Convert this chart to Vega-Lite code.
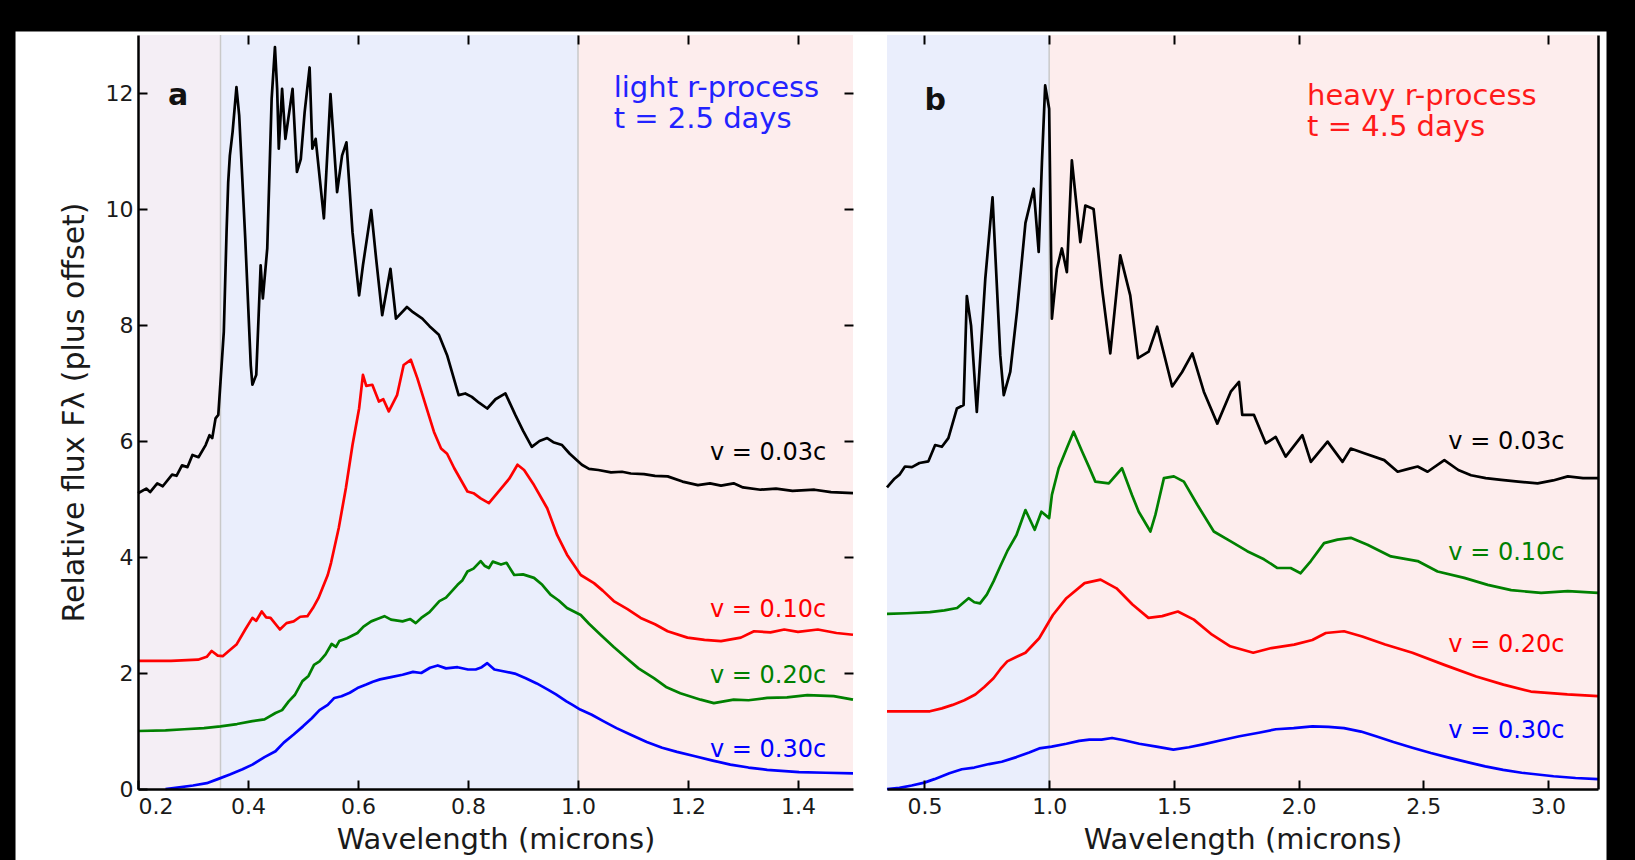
{
  "$schema": "https://vega.github.io/schema/vega-lite/v6.json",
  "background": "black",
  "padding": {"left": 15, "top": 31, "right": 29, "bottom": 0},
  "bounds": "flush",
  "spacing": 34,
  "config": {
    "view": {"stroke": null},
    "axis": {
      "grid": false,
      "domainColor": "black", "tickColor": "black", "domainWidth": 2.5, "tickWidth": 2, "tickSize": -9,
      "labelFont": "DejaVu Sans", "titleFont": "DejaVu Sans", "labelFontSize": 22, "titleFontSize": 29,
      "labelColor": "#1a1a1a", "titleColor": "#1a1a1a", "titleFontWeight": "normal"
    },
    "text": {"font": "DejaVu Sans"}
  },
  "datasets": {
    "one": [{}],
    "bandsA": [
      {"band": "uv", "start": 0.2, "end": 0.35},
      {"band": "optical", "start": 0.35, "end": 1.0},
      {"band": "infrared", "start": 1.0, "end": 1.5}
    ],
    "bandsB": [
      {"band": "optical", "start": 0.35, "end": 1.0},
      {"band": "infrared", "start": 1.0, "end": 3.2}
    ],
    "edgesA": [{"edge": 0.35}, {"edge": 1.0}],
    "edgesB": [{"edge": 1.0}],
    "spectraA": [
      {"v":"0.03c","wl":0.2,"f":5.1},{"v":"0.03c","wl":0.215,"f":5.18},{"v":"0.03c","wl":0.222,"f":5.12},{"v":"0.03c","wl":0.235,"f":5.27},{"v":"0.03c","wl":0.245,"f":5.22},{"v":"0.03c","wl":0.262,"f":5.42},{"v":"0.03c","wl":0.27,"f":5.4},{"v":"0.03c","wl":0.28,"f":5.58},{"v":"0.03c","wl":0.29,"f":5.55},{"v":"0.03c","wl":0.299,"f":5.76},{"v":"0.03c","wl":0.31,"f":5.72},{"v":"0.03c","wl":0.323,"f":5.93},{"v":"0.03c","wl":0.33,"f":6.1},{"v":"0.03c","wl":0.335,"f":6.05},{"v":"0.03c","wl":0.341,"f":6.39},{"v":"0.03c","wl":0.346,"f":6.45},{"v":"0.03c","wl":0.35,"f":7.02},{"v":"0.03c","wl":0.356,"f":7.88},{"v":"0.03c","wl":0.361,"f":9.6},{"v":"0.03c","wl":0.364,"f":10.46},{"v":"0.03c","wl":0.367,"f":10.92},{"v":"0.03c","wl":0.372,"f":11.33},{"v":"0.03c","wl":0.379,"f":12.1},{"v":"0.03c","wl":0.384,"f":11.61},{"v":"0.03c","wl":0.395,"f":9.49},{"v":"0.03c","wl":0.405,"f":7.31},{"v":"0.03c","wl":0.408,"f":6.97},{"v":"0.03c","wl":0.415,"f":7.14},{"v":"0.03c","wl":0.423,"f":9.03},{"v":"0.03c","wl":0.427,"f":8.46},{"v":"0.03c","wl":0.435,"f":9.32},{"v":"0.03c","wl":0.443,"f":11.9},{"v":"0.03c","wl":0.449,"f":12.79},{"v":"0.03c","wl":0.453,"f":12.07},{"v":"0.03c","wl":0.456,"f":11.04},{"v":"0.03c","wl":0.462,"f":12.07},{"v":"0.03c","wl":0.468,"f":11.21},{"v":"0.03c","wl":0.481,"f":12.07},{"v":"0.03c","wl":0.489,"f":10.64},{"v":"0.03c","wl":0.496,"f":10.86},{"v":"0.03c","wl":0.503,"f":11.67},{"v":"0.03c","wl":0.512,"f":12.44},{"v":"0.03c","wl":0.517,"f":11.04},{"v":"0.03c","wl":0.523,"f":11.21},{"v":"0.03c","wl":0.538,"f":9.84},{"v":"0.03c","wl":0.55,"f":11.98},{"v":"0.03c","wl":0.562,"f":10.29},{"v":"0.03c","wl":0.571,"f":10.92},{"v":"0.03c","wl":0.579,"f":11.15},{"v":"0.03c","wl":0.59,"f":9.6},{"v":"0.03c","wl":0.602,"f":8.51},{"v":"0.03c","wl":0.609,"f":9.03},{"v":"0.03c","wl":0.624,"f":9.98},{"v":"0.03c","wl":0.633,"f":9.14},{"v":"0.03c","wl":0.644,"f":8.17},{"v":"0.03c","wl":0.659,"f":8.97},{"v":"0.03c","wl":0.669,"f":8.11},{"v":"0.03c","wl":0.689,"f":8.31},{"v":"0.03c","wl":0.7,"f":8.22},{"v":"0.03c","wl":0.717,"f":8.11},{"v":"0.03c","wl":0.73,"f":7.98},{"v":"0.03c","wl":0.747,"f":7.83},{"v":"0.03c","wl":0.762,"f":7.48},{"v":"0.03c","wl":0.783,"f":6.79},{"v":"0.03c","wl":0.795,"f":6.82},{"v":"0.03c","wl":0.807,"f":6.76},{"v":"0.03c","wl":0.82,"f":6.66},{"v":"0.03c","wl":0.835,"f":6.56},{"v":"0.03c","wl":0.85,"f":6.72},{"v":"0.03c","wl":0.868,"f":6.82},{"v":"0.03c","wl":0.886,"f":6.45},{"v":"0.03c","wl":0.9,"f":6.18},{"v":"0.03c","wl":0.916,"f":5.9},{"v":"0.03c","wl":0.93,"f":6.0},{"v":"0.03c","wl":0.944,"f":6.05},{"v":"0.03c","wl":0.955,"f":5.98},{"v":"0.03c","wl":0.971,"f":5.93},{"v":"0.03c","wl":0.985,"f":5.78},{"v":"0.03c","wl":1.007,"f":5.59},{"v":"0.03c","wl":1.02,"f":5.52},{"v":"0.03c","wl":1.037,"f":5.5},{"v":"0.03c","wl":1.06,"f":5.46},{"v":"0.03c","wl":1.08,"f":5.47},{"v":"0.03c","wl":1.096,"f":5.44},{"v":"0.03c","wl":1.12,"f":5.43},{"v":"0.03c","wl":1.14,"f":5.4},{"v":"0.03c","wl":1.163,"f":5.39},{"v":"0.03c","wl":1.19,"f":5.3},{"v":"0.03c","wl":1.218,"f":5.24},{"v":"0.03c","wl":1.24,"f":5.27},{"v":"0.03c","wl":1.26,"f":5.23},{"v":"0.03c","wl":1.283,"f":5.27},{"v":"0.03c","wl":1.3,"f":5.2},{"v":"0.03c","wl":1.332,"f":5.16},{"v":"0.03c","wl":1.36,"f":5.18},{"v":"0.03c","wl":1.39,"f":5.14},{"v":"0.03c","wl":1.43,"f":5.16},{"v":"0.03c","wl":1.46,"f":5.12},{"v":"0.03c","wl":1.5,"f":5.1},
      {"v":"0.10c","wl":0.2,"f":2.21},{"v":"0.10c","wl":0.26,"f":2.21},{"v":"0.10c","wl":0.309,"f":2.23},{"v":"0.10c","wl":0.325,"f":2.28},{"v":"0.10c","wl":0.334,"f":2.38},{"v":"0.10c","wl":0.345,"f":2.3},{"v":"0.10c","wl":0.354,"f":2.29},{"v":"0.10c","wl":0.365,"f":2.38},{"v":"0.10c","wl":0.379,"f":2.49},{"v":"0.10c","wl":0.395,"f":2.75},{"v":"0.10c","wl":0.408,"f":2.95},{"v":"0.10c","wl":0.415,"f":2.9},{"v":"0.10c","wl":0.425,"f":3.06},{"v":"0.10c","wl":0.433,"f":2.96},{"v":"0.10c","wl":0.441,"f":2.95},{"v":"0.10c","wl":0.458,"f":2.75},{"v":"0.10c","wl":0.47,"f":2.86},{"v":"0.10c","wl":0.483,"f":2.89},{"v":"0.10c","wl":0.495,"f":2.97},{"v":"0.10c","wl":0.508,"f":2.98},{"v":"0.10c","wl":0.518,"f":3.12},{"v":"0.10c","wl":0.528,"f":3.29},{"v":"0.10c","wl":0.545,"f":3.69},{"v":"0.10c","wl":0.551,"f":3.9},{"v":"0.10c","wl":0.565,"f":4.5},{"v":"0.10c","wl":0.578,"f":5.19},{"v":"0.10c","wl":0.59,"f":5.93},{"v":"0.10c","wl":0.602,"f":6.56},{"v":"0.10c","wl":0.609,"f":7.14},{"v":"0.10c","wl":0.615,"f":6.95},{"v":"0.10c","wl":0.626,"f":6.97},{"v":"0.10c","wl":0.638,"f":6.68},{"v":"0.10c","wl":0.646,"f":6.72},{"v":"0.10c","wl":0.656,"f":6.51},{"v":"0.10c","wl":0.671,"f":6.79},{"v":"0.10c","wl":0.683,"f":7.31},{"v":"0.10c","wl":0.696,"f":7.4},{"v":"0.10c","wl":0.708,"f":7.08},{"v":"0.10c","wl":0.723,"f":6.62},{"v":"0.10c","wl":0.738,"f":6.16},{"v":"0.10c","wl":0.751,"f":5.87},{"v":"0.10c","wl":0.762,"f":5.78},{"v":"0.10c","wl":0.775,"f":5.53},{"v":"0.10c","wl":0.799,"f":5.13},{"v":"0.10c","wl":0.81,"f":5.1},{"v":"0.10c","wl":0.823,"f":5.01},{"v":"0.10c","wl":0.838,"f":4.93},{"v":"0.10c","wl":0.86,"f":5.18},{"v":"0.10c","wl":0.875,"f":5.35},{"v":"0.10c","wl":0.89,"f":5.59},{"v":"0.10c","wl":0.902,"f":5.5},{"v":"0.10c","wl":0.92,"f":5.24},{"v":"0.10c","wl":0.944,"f":4.84},{"v":"0.10c","wl":0.962,"f":4.38},{"v":"0.10c","wl":0.98,"f":4.04},{"v":"0.10c","wl":1.005,"f":3.69},{"v":"0.10c","wl":1.029,"f":3.55},{"v":"0.10c","wl":1.045,"f":3.42},{"v":"0.10c","wl":1.065,"f":3.24},{"v":"0.10c","wl":1.09,"f":3.1},{"v":"0.10c","wl":1.114,"f":2.95},{"v":"0.10c","wl":1.14,"f":2.84},{"v":"0.10c","wl":1.163,"f":2.72},{"v":"0.10c","wl":1.199,"f":2.61},{"v":"0.10c","wl":1.23,"f":2.57},{"v":"0.10c","wl":1.26,"f":2.55},{"v":"0.10c","wl":1.296,"f":2.61},{"v":"0.10c","wl":1.32,"f":2.72},{"v":"0.10c","wl":1.35,"f":2.7},{"v":"0.10c","wl":1.375,"f":2.75},{"v":"0.10c","wl":1.4,"f":2.71},{"v":"0.10c","wl":1.436,"f":2.75},{"v":"0.10c","wl":1.47,"f":2.69},{"v":"0.10c","wl":1.5,"f":2.66},
      {"v":"0.20c","wl":0.2,"f":1.0},{"v":"0.20c","wl":0.25,"f":1.01},{"v":"0.20c","wl":0.284,"f":1.03},{"v":"0.20c","wl":0.32,"f":1.05},{"v":"0.20c","wl":0.35,"f":1.08},{"v":"0.20c","wl":0.38,"f":1.12},{"v":"0.20c","wl":0.408,"f":1.17},{"v":"0.20c","wl":0.43,"f":1.2},{"v":"0.20c","wl":0.45,"f":1.31},{"v":"0.20c","wl":0.462,"f":1.36},{"v":"0.20c","wl":0.474,"f":1.51},{"v":"0.20c","wl":0.485,"f":1.62},{"v":"0.20c","wl":0.499,"f":1.86},{"v":"0.20c","wl":0.51,"f":1.95},{"v":"0.20c","wl":0.52,"f":2.14},{"v":"0.20c","wl":0.53,"f":2.2},{"v":"0.20c","wl":0.541,"f":2.32},{"v":"0.20c","wl":0.552,"f":2.5},{"v":"0.20c","wl":0.56,"f":2.45},{"v":"0.20c","wl":0.566,"f":2.55},{"v":"0.20c","wl":0.58,"f":2.6},{"v":"0.20c","wl":0.599,"f":2.69},{"v":"0.20c","wl":0.61,"f":2.8},{"v":"0.20c","wl":0.624,"f":2.89},{"v":"0.20c","wl":0.635,"f":2.93},{"v":"0.20c","wl":0.648,"f":2.98},{"v":"0.20c","wl":0.66,"f":2.92},{"v":"0.20c","wl":0.681,"f":2.89},{"v":"0.20c","wl":0.695,"f":2.93},{"v":"0.20c","wl":0.705,"f":2.86},{"v":"0.20c","wl":0.715,"f":2.95},{"v":"0.20c","wl":0.73,"f":3.05},{"v":"0.20c","wl":0.748,"f":3.24},{"v":"0.20c","wl":0.76,"f":3.3},{"v":"0.20c","wl":0.781,"f":3.52},{"v":"0.20c","wl":0.79,"f":3.6},{"v":"0.20c","wl":0.799,"f":3.75},{"v":"0.20c","wl":0.81,"f":3.8},{"v":"0.20c","wl":0.823,"f":3.93},{"v":"0.20c","wl":0.83,"f":3.85},{"v":"0.20c","wl":0.838,"f":3.81},{"v":"0.20c","wl":0.845,"f":3.92},{"v":"0.20c","wl":0.86,"f":3.87},{"v":"0.20c","wl":0.87,"f":3.9},{"v":"0.20c","wl":0.884,"f":3.69},{"v":"0.20c","wl":0.9,"f":3.7},{"v":"0.20c","wl":0.92,"f":3.64},{"v":"0.20c","wl":0.935,"f":3.52},{"v":"0.20c","wl":0.95,"f":3.35},{"v":"0.20c","wl":0.965,"f":3.25},{"v":"0.20c","wl":0.98,"f":3.12},{"v":"0.20c","wl":1.005,"f":3.0},{"v":"0.20c","wl":1.02,"f":2.85},{"v":"0.20c","wl":1.041,"f":2.66},{"v":"0.20c","wl":1.065,"f":2.45},{"v":"0.20c","wl":1.089,"f":2.25},{"v":"0.20c","wl":1.11,"f":2.08},{"v":"0.20c","wl":1.138,"f":1.91},{"v":"0.20c","wl":1.16,"f":1.76},{"v":"0.20c","wl":1.186,"f":1.65},{"v":"0.20c","wl":1.223,"f":1.54},{"v":"0.20c","wl":1.247,"f":1.48},{"v":"0.20c","wl":1.283,"f":1.54},{"v":"0.20c","wl":1.31,"f":1.53},{"v":"0.20c","wl":1.344,"f":1.57},{"v":"0.20c","wl":1.38,"f":1.58},{"v":"0.20c","wl":1.417,"f":1.62},{"v":"0.20c","wl":1.465,"f":1.6},{"v":"0.20c","wl":1.5,"f":1.54},
      {"v":"0.30c","wl":0.25,"f":0.0},{"v":"0.30c","wl":0.268,"f":0.02},{"v":"0.30c","wl":0.3,"f":0.06},{"v":"0.30c","wl":0.325,"f":0.1},{"v":"0.30c","wl":0.345,"f":0.17},{"v":"0.30c","wl":0.367,"f":0.25},{"v":"0.30c","wl":0.39,"f":0.34},{"v":"0.30c","wl":0.408,"f":0.42},{"v":"0.30c","wl":0.43,"f":0.55},{"v":"0.30c","wl":0.45,"f":0.65},{"v":"0.30c","wl":0.465,"f":0.8},{"v":"0.30c","wl":0.483,"f":0.94},{"v":"0.30c","wl":0.5,"f":1.08},{"v":"0.30c","wl":0.516,"f":1.22},{"v":"0.30c","wl":0.53,"f":1.36},{"v":"0.30c","wl":0.545,"f":1.45},{"v":"0.30c","wl":0.557,"f":1.57},{"v":"0.30c","wl":0.57,"f":1.6},{"v":"0.30c","wl":0.585,"f":1.66},{"v":"0.30c","wl":0.599,"f":1.74},{"v":"0.30c","wl":0.615,"f":1.8},{"v":"0.30c","wl":0.627,"f":1.85},{"v":"0.30c","wl":0.64,"f":1.89},{"v":"0.30c","wl":0.66,"f":1.93},{"v":"0.30c","wl":0.681,"f":1.97},{"v":"0.30c","wl":0.7,"f":2.02},{"v":"0.30c","wl":0.715,"f":2.0},{"v":"0.30c","wl":0.731,"f":2.09},{"v":"0.30c","wl":0.745,"f":2.13},{"v":"0.30c","wl":0.76,"f":2.08},{"v":"0.30c","wl":0.781,"f":2.1},{"v":"0.30c","wl":0.8,"f":2.06},{"v":"0.30c","wl":0.814,"f":2.06},{"v":"0.30c","wl":0.825,"f":2.1},{"v":"0.30c","wl":0.835,"f":2.17},{"v":"0.30c","wl":0.848,"f":2.06},{"v":"0.30c","wl":0.864,"f":2.03},{"v":"0.30c","wl":0.885,"f":1.99},{"v":"0.30c","wl":0.905,"f":1.91},{"v":"0.30c","wl":0.925,"f":1.82},{"v":"0.30c","wl":0.946,"f":1.71},{"v":"0.30c","wl":0.96,"f":1.63},{"v":"0.30c","wl":0.979,"f":1.51},{"v":"0.30c","wl":0.99,"f":1.45},{"v":"0.30c","wl":1.004,"f":1.37},{"v":"0.30c","wl":1.025,"f":1.28},{"v":"0.30c","wl":1.046,"f":1.17},{"v":"0.30c","wl":1.07,"f":1.05},{"v":"0.30c","wl":1.095,"f":0.94},{"v":"0.30c","wl":1.125,"f":0.81},{"v":"0.30c","wl":1.153,"f":0.71},{"v":"0.30c","wl":1.18,"f":0.64},{"v":"0.30c","wl":1.211,"f":0.57},{"v":"0.30c","wl":1.245,"f":0.49},{"v":"0.30c","wl":1.277,"f":0.42},{"v":"0.30c","wl":1.31,"f":0.37},{"v":"0.30c","wl":1.344,"f":0.33},{"v":"0.30c","wl":1.402,"f":0.29},{"v":"0.30c","wl":1.45,"f":0.28},{"v":"0.30c","wl":1.5,"f":0.27}
    ],
    "spectraB": [
      {"v":"0.03c","wl":0.35,"f":5.2},{"v":"0.03c","wl":0.38,"f":5.35},{"v":"0.03c","wl":0.4,"f":5.42},{"v":"0.03c","wl":0.422,"f":5.56},{"v":"0.03c","wl":0.45,"f":5.55},{"v":"0.03c","wl":0.48,"f":5.62},{"v":"0.03c","wl":0.516,"f":5.65},{"v":"0.03c","wl":0.543,"f":5.93},{"v":"0.03c","wl":0.57,"f":5.9},{"v":"0.03c","wl":0.596,"f":6.05},{"v":"0.03c","wl":0.63,"f":6.56},{"v":"0.03c","wl":0.657,"f":6.62},{"v":"0.03c","wl":0.67,"f":8.5},{"v":"0.03c","wl":0.687,"f":7.99},{"v":"0.03c","wl":0.71,"f":6.5},{"v":"0.03c","wl":0.744,"f":8.8},{"v":"0.03c","wl":0.773,"f":10.2},{"v":"0.03c","wl":0.804,"f":7.48},{"v":"0.03c","wl":0.818,"f":6.79},{"v":"0.03c","wl":0.844,"f":7.19},{"v":"0.03c","wl":0.871,"f":8.23},{"v":"0.03c","wl":0.905,"f":9.76},{"v":"0.03c","wl":0.938,"f":10.35},{"v":"0.03c","wl":0.958,"f":9.26},{"v":"0.03c","wl":0.971,"f":10.8},{"v":"0.03c","wl":0.984,"f":12.13},{"v":"0.03c","wl":1.0,"f":11.73},{"v":"0.03c","wl":1.011,"f":8.11},{"v":"0.03c","wl":1.031,"f":8.97},{"v":"0.03c","wl":1.051,"f":9.32},{"v":"0.03c","wl":1.071,"f":8.91},{"v":"0.03c","wl":1.091,"f":10.84},{"v":"0.03c","wl":1.125,"f":9.43},{"v":"0.03c","wl":1.145,"f":10.06},{"v":"0.03c","wl":1.178,"f":10.0},{"v":"0.03c","wl":1.212,"f":8.63},{"v":"0.03c","wl":1.245,"f":7.51},{"v":"0.03c","wl":1.285,"f":9.2},{"v":"0.03c","wl":1.325,"f":8.51},{"v":"0.03c","wl":1.356,"f":7.43},{"v":"0.03c","wl":1.399,"f":7.54},{"v":"0.03c","wl":1.433,"f":7.97},{"v":"0.03c","wl":1.493,"f":6.94},{"v":"0.03c","wl":1.533,"f":7.19},{"v":"0.03c","wl":1.574,"f":7.51},{"v":"0.03c","wl":1.62,"f":6.85},{"v":"0.03c","wl":1.674,"f":6.3},{"v":"0.03c","wl":1.728,"f":6.85},{"v":"0.03c","wl":1.761,"f":7.02},{"v":"0.03c","wl":1.774,"f":6.45},{"v":"0.03c","wl":1.821,"f":6.45},{"v":"0.03c","wl":1.868,"f":5.96},{"v":"0.03c","wl":1.908,"f":6.07},{"v":"0.03c","wl":1.948,"f":5.73},{"v":"0.03c","wl":2.015,"f":6.1},{"v":"0.03c","wl":2.049,"f":5.64},{"v":"0.03c","wl":2.116,"f":5.99},{"v":"0.03c","wl":2.176,"f":5.64},{"v":"0.03c","wl":2.209,"f":5.87},{"v":"0.03c","wl":2.263,"f":5.79},{"v":"0.03c","wl":2.343,"f":5.67},{"v":"0.03c","wl":2.397,"f":5.47},{"v":"0.03c","wl":2.44,"f":5.52},{"v":"0.03c","wl":2.477,"f":5.56},{"v":"0.03c","wl":2.517,"f":5.47},{"v":"0.03c","wl":2.584,"f":5.67},{"v":"0.03c","wl":2.64,"f":5.5},{"v":"0.03c","wl":2.691,"f":5.41},{"v":"0.03c","wl":2.75,"f":5.36},{"v":"0.03c","wl":2.812,"f":5.33},{"v":"0.03c","wl":2.88,"f":5.3},{"v":"0.03c","wl":2.958,"f":5.27},{"v":"0.03c","wl":3.02,"f":5.32},{"v":"0.03c","wl":3.079,"f":5.39},{"v":"0.03c","wl":3.14,"f":5.36},{"v":"0.03c","wl":3.2,"f":5.36},
      {"v":"0.10c","wl":0.35,"f":3.02},{"v":"0.10c","wl":0.43,"f":3.03},{"v":"0.10c","wl":0.522,"f":3.05},{"v":"0.10c","wl":0.58,"f":3.08},{"v":"0.10c","wl":0.631,"f":3.12},{"v":"0.10c","wl":0.677,"f":3.29},{"v":"0.10c","wl":0.7,"f":3.22},{"v":"0.10c","wl":0.723,"f":3.2},{"v":"0.10c","wl":0.75,"f":3.35},{"v":"0.10c","wl":0.777,"f":3.58},{"v":"0.10c","wl":0.805,"f":3.85},{"v":"0.10c","wl":0.832,"f":4.1},{"v":"0.10c","wl":0.869,"f":4.38},{"v":"0.10c","wl":0.905,"f":4.81},{"v":"0.10c","wl":0.942,"f":4.47},{"v":"0.10c","wl":0.969,"f":4.78},{"v":"0.10c","wl":1.0,"f":4.67},{"v":"0.10c","wl":1.011,"f":5.07},{"v":"0.10c","wl":1.038,"f":5.53},{"v":"0.10c","wl":1.071,"f":5.88},{"v":"0.10c","wl":1.098,"f":6.16},{"v":"0.10c","wl":1.132,"f":5.82},{"v":"0.10c","wl":1.16,"f":5.55},{"v":"0.10c","wl":1.185,"f":5.3},{"v":"0.10c","wl":1.239,"f":5.27},{"v":"0.10c","wl":1.292,"f":5.53},{"v":"0.10c","wl":1.332,"f":5.07},{"v":"0.10c","wl":1.359,"f":4.78},{"v":"0.10c","wl":1.406,"f":4.44},{"v":"0.10c","wl":1.426,"f":4.73},{"v":"0.10c","wl":1.46,"f":5.36},{"v":"0.10c","wl":1.5,"f":5.39},{"v":"0.10c","wl":1.54,"f":5.3},{"v":"0.10c","wl":1.594,"f":4.9},{"v":"0.10c","wl":1.66,"f":4.44},{"v":"0.10c","wl":1.728,"f":4.27},{"v":"0.10c","wl":1.794,"f":4.1},{"v":"0.10c","wl":1.861,"f":3.96},{"v":"0.10c","wl":1.915,"f":3.81},{"v":"0.10c","wl":1.968,"f":3.81},{"v":"0.10c","wl":2.008,"f":3.72},{"v":"0.10c","wl":2.049,"f":3.93},{"v":"0.10c","wl":2.102,"f":4.24},{"v":"0.10c","wl":2.156,"f":4.3},{"v":"0.10c","wl":2.209,"f":4.33},{"v":"0.10c","wl":2.276,"f":4.21},{"v":"0.10c","wl":2.37,"f":4.01},{"v":"0.10c","wl":2.477,"f":3.93},{"v":"0.10c","wl":2.557,"f":3.75},{"v":"0.10c","wl":2.664,"f":3.64},{"v":"0.10c","wl":2.758,"f":3.52},{"v":"0.10c","wl":2.852,"f":3.43},{"v":"0.10c","wl":2.972,"f":3.38},{"v":"0.10c","wl":3.079,"f":3.41},{"v":"0.10c","wl":3.2,"f":3.38},
      {"v":"0.20c","wl":0.35,"f":1.34},{"v":"0.20c","wl":0.44,"f":1.34},{"v":"0.20c","wl":0.522,"f":1.34},{"v":"0.20c","wl":0.57,"f":1.39},{"v":"0.20c","wl":0.613,"f":1.45},{"v":"0.20c","wl":0.66,"f":1.53},{"v":"0.20c","wl":0.704,"f":1.63},{"v":"0.20c","wl":0.74,"f":1.76},{"v":"0.20c","wl":0.777,"f":1.91},{"v":"0.20c","wl":0.805,"f":2.07},{"v":"0.20c","wl":0.832,"f":2.2},{"v":"0.20c","wl":0.87,"f":2.28},{"v":"0.20c","wl":0.905,"f":2.35},{"v":"0.20c","wl":0.96,"f":2.6},{"v":"0.20c","wl":1.015,"f":3.0},{"v":"0.20c","wl":1.069,"f":3.29},{"v":"0.20c","wl":1.142,"f":3.55},{"v":"0.20c","wl":1.206,"f":3.61},{"v":"0.20c","wl":1.27,"f":3.46},{"v":"0.20c","wl":1.334,"f":3.18},{"v":"0.20c","wl":1.398,"f":2.95},{"v":"0.20c","wl":1.453,"f":2.98},{"v":"0.20c","wl":1.516,"f":3.06},{"v":"0.20c","wl":1.58,"f":2.92},{"v":"0.20c","wl":1.653,"f":2.66},{"v":"0.20c","wl":1.726,"f":2.46},{"v":"0.20c","wl":1.818,"f":2.35},{"v":"0.20c","wl":1.891,"f":2.43},{"v":"0.20c","wl":1.982,"f":2.49},{"v":"0.20c","wl":2.055,"f":2.57},{"v":"0.20c","wl":2.109,"f":2.69},{"v":"0.20c","wl":2.182,"f":2.72},{"v":"0.20c","wl":2.255,"f":2.63},{"v":"0.20c","wl":2.347,"f":2.49},{"v":"0.20c","wl":2.456,"f":2.35},{"v":"0.20c","wl":2.584,"f":2.14},{"v":"0.20c","wl":2.712,"f":1.94},{"v":"0.20c","wl":2.821,"f":1.8},{"v":"0.20c","wl":2.931,"f":1.68},{"v":"0.20c","wl":3.077,"f":1.63},{"v":"0.20c","wl":3.2,"f":1.6},
      {"v":"0.30c","wl":0.35,"f":0.0},{"v":"0.30c","wl":0.4,"f":0.02},{"v":"0.30c","wl":0.449,"f":0.06},{"v":"0.30c","wl":0.5,"f":0.11},{"v":"0.30c","wl":0.54,"f":0.17},{"v":"0.30c","wl":0.6,"f":0.27},{"v":"0.30c","wl":0.65,"f":0.34},{"v":"0.30c","wl":0.7,"f":0.37},{"v":"0.30c","wl":0.759,"f":0.43},{"v":"0.30c","wl":0.81,"f":0.47},{"v":"0.30c","wl":0.869,"f":0.55},{"v":"0.30c","wl":0.92,"f":0.63},{"v":"0.30c","wl":0.96,"f":0.7},{"v":"0.30c","wl":1.01,"f":0.73},{"v":"0.30c","wl":1.069,"f":0.78},{"v":"0.30c","wl":1.12,"f":0.83},{"v":"0.30c","wl":1.161,"f":0.85},{"v":"0.30c","wl":1.21,"f":0.85},{"v":"0.30c","wl":1.252,"f":0.88},{"v":"0.30c","wl":1.3,"f":0.84},{"v":"0.30c","wl":1.361,"f":0.78},{"v":"0.30c","wl":1.43,"f":0.73},{"v":"0.30c","wl":1.498,"f":0.68},{"v":"0.30c","wl":1.56,"f":0.72},{"v":"0.30c","wl":1.617,"f":0.77},{"v":"0.30c","wl":1.69,"f":0.84},{"v":"0.30c","wl":1.763,"f":0.91},{"v":"0.30c","wl":1.84,"f":0.97},{"v":"0.30c","wl":1.909,"f":1.03},{"v":"0.30c","wl":1.98,"f":1.05},{"v":"0.30c","wl":2.055,"f":1.08},{"v":"0.30c","wl":2.12,"f":1.07},{"v":"0.30c","wl":2.182,"f":1.05},{"v":"0.30c","wl":2.25,"f":0.99},{"v":"0.30c","wl":2.31,"f":0.91},{"v":"0.30c","wl":2.38,"f":0.81},{"v":"0.30c","wl":2.456,"f":0.71},{"v":"0.30c","wl":2.53,"f":0.62},{"v":"0.30c","wl":2.602,"f":0.54},{"v":"0.30c","wl":2.68,"f":0.46},{"v":"0.30c","wl":2.748,"f":0.39},{"v":"0.30c","wl":2.82,"f":0.33},{"v":"0.30c","wl":2.894,"f":0.28},{"v":"0.30c","wl":3.022,"f":0.22},{"v":"0.30c","wl":3.11,"f":0.19},{"v":"0.30c","wl":3.2,"f":0.17}
    ]
  },
  "hconcat": [
    {
      "width": 715,
      "height": 754,
      "resolve": {"axis": {"x": "independent", "y": "independent"}, "scale": {"color": "independent"}},
      "layer": [
        {
          "data": {"name": "one"},
          "mark": {"type": "rect", "fill": "white"},
          "encoding": {
            "x": {"datum": -0.0227, "type": "quantitative", "scale": {"domain": [0.2, 1.5], "nice": false, "zero": false}, "axis": null},
            "x2": {"datum": 2.87},
            "y": {"datum": -1.234, "type": "quantitative", "scale": {"domain": [0, 13], "nice": false, "zero": false}, "axis": null},
            "y2": {"datum": 13.059}
          }
        },
        {
          "data": {"name": "bandsA"},
          "mark": {"type": "rect"},
          "encoding": {
            "x": {"field": "start", "type": "quantitative", "scale": {"domain": [0.2, 1.5], "nice": false, "zero": false}, "axis": null},
            "x2": {"field": "end"},
            "y": {"datum": 0, "type": "quantitative", "scale": {"domain": [0, 13], "nice": false, "zero": false}, "axis": null},
            "y2": {"datum": 13},
            "color": {"field": "band", "type": "nominal", "legend": null,
              "scale": {"domain": ["uv", "optical", "infrared"], "range": ["#f4eef5", "#eaeefc", "#fdeded"]}}
          }
        },
        {
          "data": {"name": "edgesA"},
          "mark": {"type": "rule", "color": "#c9c9c9", "strokeWidth": 1.5},
          "encoding": {
            "x": {"field": "edge", "type": "quantitative", "scale": {"domain": [0.2, 1.5], "nice": false, "zero": false}, "axis": null}
          }
        },
        {
          "data": {"name": "spectraA"},
          "mark": {"type": "line", "strokeWidth": 2.7, "strokeJoin": "round"},
          "encoding": {
            "x": {"field": "wl", "type": "quantitative", "scale": {"domain": [0.2, 1.5], "nice": false, "zero": false},
              "axis": {"orient": "bottom", "zindex": 2, "values": [0.2, 0.4, 0.6, 0.8, 1.0, 1.2, 1.4], "format": ".1f", "title": "Wavelength (microns)", "labelPadding": 16, "titlePadding": 8}},
            "y": {"field": "f", "type": "quantitative", "scale": {"domain": [0, 13], "nice": false, "zero": false},
              "axis": {"orient": "left", "zindex": 2, "values": [0, 2, 4, 6, 8, 10, 12], "format": "d", "title": "Relative flux  Fλ  (plus offset)", "titleFontSize": 30, "labelPadding": 14, "titlePadding": 16}},
            "color": {"field": "v", "type": "nominal", "legend": null,
              "scale": {"domain": ["0.03c", "0.10c", "0.20c", "0.30c"], "range": ["#000000", "#ff0000", "#008000", "#0000ff"]}}
          }
        },
        {
          "data": {"name": "one"},
          "mark": {"type": "text", "text": "a", "fontSize": 30, "fontWeight": "bold", "color": "#111111", "align": "center", "baseline": "middle"},
          "encoding": {
            "x": {"datum": 0.273, "type": "quantitative", "scale": {"domain": [0.2, 1.5], "nice": false, "zero": false},
              "axis": {"orient": "top", "zindex": 2, "values": [0.4, 0.6, 0.8, 1.0, 1.2, 1.4], "labels": false, "domain": false, "title": null}},
            "y": {"datum": 11.95, "type": "quantitative", "scale": {"domain": [0, 13], "nice": false, "zero": false},
              "axis": {"orient": "right", "zindex": 2, "values": [2, 4, 6, 8, 10, 12], "labels": false, "domain": false, "title": null}}
          }
        },
        {
          "data": {"name": "one"},
          "mark": {"type": "text", "text": ["light r-process", "t = 2.5 days"], "fontSize": 29, "color": "#2222ff", "align": "left", "baseline": "middle", "lineHeight": 31},
          "encoding": {
            "x": {"datum": 1.065, "type": "quantitative", "scale": {"domain": [0.2, 1.5], "nice": false, "zero": false}, "axis": null},
            "y": {"datum": 12.09, "type": "quantitative", "scale": {"domain": [0, 13], "nice": false, "zero": false}, "axis": null}
          }
        },
        {
          "data": {"name": "one"},
          "mark": {"type": "text", "text": "v = 0.03c", "fontSize": 24, "color": "#000000", "align": "left", "baseline": "middle"},
          "encoding": {
            "x": {"datum": 1.24, "type": "quantitative", "scale": {"domain": [0.2, 1.5], "nice": false, "zero": false}, "axis": null},
            "y": {"datum": 5.79, "type": "quantitative", "scale": {"domain": [0, 13], "nice": false, "zero": false}, "axis": null}
          }
        },
        {
          "data": {"name": "one"},
          "mark": {"type": "text", "text": "v = 0.10c", "fontSize": 24, "color": "#ff0000", "align": "left", "baseline": "middle"},
          "encoding": {
            "x": {"datum": 1.24, "type": "quantitative", "scale": {"domain": [0.2, 1.5], "nice": false, "zero": false}, "axis": null},
            "y": {"datum": 3.09, "type": "quantitative", "scale": {"domain": [0, 13], "nice": false, "zero": false}, "axis": null}
          }
        },
        {
          "data": {"name": "one"},
          "mark": {"type": "text", "text": "v = 0.20c", "fontSize": 24, "color": "#008000", "align": "left", "baseline": "middle"},
          "encoding": {
            "x": {"datum": 1.24, "type": "quantitative", "scale": {"domain": [0.2, 1.5], "nice": false, "zero": false}, "axis": null},
            "y": {"datum": 1.94, "type": "quantitative", "scale": {"domain": [0, 13], "nice": false, "zero": false}, "axis": null}
          }
        },
        {
          "data": {"name": "one"},
          "mark": {"type": "text", "text": "v = 0.30c", "fontSize": 24, "color": "#0000ff", "align": "left", "baseline": "middle"},
          "encoding": {
            "x": {"datum": 1.24, "type": "quantitative", "scale": {"domain": [0.2, 1.5], "nice": false, "zero": false}, "axis": null},
            "y": {"datum": 0.68, "type": "quantitative", "scale": {"domain": [0, 13], "nice": false, "zero": false}, "axis": null}
          }
        }
      ]
    },
    {
      "width": 711,
      "height": 754,
      "resolve": {"axis": {"x": "independent", "y": "independent"}, "scale": {"color": "independent"}},
      "layer": [
        {
          "data": {"name": "bandsB"},
          "mark": {"type": "rect"},
          "encoding": {
            "x": {"field": "start", "type": "quantitative", "scale": {"domain": [0.35, 3.2], "nice": false, "zero": false}, "axis": null},
            "x2": {"field": "end"},
            "y": {"datum": 0, "type": "quantitative", "scale": {"domain": [0, 13], "nice": false, "zero": false}, "axis": null},
            "y2": {"datum": 13},
            "color": {"field": "band", "type": "nominal", "legend": null,
              "scale": {"domain": ["optical", "infrared"], "range": ["#eaeefc", "#fdeded"]}}
          }
        },
        {
          "data": {"name": "edgesB"},
          "mark": {"type": "rule", "color": "#c9c9c9", "strokeWidth": 1.5},
          "encoding": {
            "x": {"field": "edge", "type": "quantitative", "scale": {"domain": [0.35, 3.2], "nice": false, "zero": false}, "axis": null}
          }
        },
        {
          "data": {"name": "spectraB"},
          "mark": {"type": "line", "strokeWidth": 2.7, "strokeJoin": "round"},
          "encoding": {
            "x": {"field": "wl", "type": "quantitative", "scale": {"domain": [0.35, 3.2], "nice": false, "zero": false},
              "axis": {"orient": "bottom", "zindex": 2, "values": [0.5, 1.0, 1.5, 2.0, 2.5, 3.0], "format": ".1f", "title": "Wavelength (microns)", "labelPadding": 16, "titlePadding": 8}},
            "y": {"field": "f", "type": "quantitative", "scale": {"domain": [0, 13], "nice": false, "zero": false},
              "axis": {"orient": "right", "zindex": 2, "labels": false, "ticks": false, "domain": true, "title": null}},
            "color": {"field": "v", "type": "nominal", "legend": null,
              "scale": {"domain": ["0.03c", "0.10c", "0.20c", "0.30c"], "range": ["#000000", "#008000", "#ff0000", "#0000ff"]}}
          }
        },
        {
          "data": {"name": "one"},
          "mark": {"type": "text", "text": "b", "fontSize": 30, "fontWeight": "bold", "color": "#111111", "align": "center", "baseline": "middle"},
          "encoding": {
            "x": {"datum": 0.543, "type": "quantitative", "scale": {"domain": [0.35, 3.2], "nice": false, "zero": false},
              "axis": {"orient": "top", "zindex": 2, "values": [0.5, 1.0, 1.5, 2.0, 3.0], "labels": false, "domain": false, "title": null}},
            "y": {"datum": 11.86, "type": "quantitative", "scale": {"domain": [0, 13], "nice": false, "zero": false}, "axis": null}
          }
        },
        {
          "data": {"name": "one"},
          "mark": {"type": "text", "text": ["heavy r-process", "t = 4.5 days"], "fontSize": 29, "color": "#ff1a1a", "align": "left", "baseline": "middle", "lineHeight": 31},
          "encoding": {
            "x": {"datum": 2.034, "type": "quantitative", "scale": {"domain": [0.35, 3.2], "nice": false, "zero": false}, "axis": null},
            "y": {"datum": 11.95, "type": "quantitative", "scale": {"domain": [0, 13], "nice": false, "zero": false}, "axis": null}
          }
        },
        {
          "data": {"name": "one"},
          "mark": {"type": "text", "text": "v = 0.03c", "fontSize": 24, "color": "#000000", "align": "left", "baseline": "middle"},
          "encoding": {
            "x": {"datum": 2.6, "type": "quantitative", "scale": {"domain": [0.35, 3.2], "nice": false, "zero": false}, "axis": null},
            "y": {"datum": 5.99, "type": "quantitative", "scale": {"domain": [0, 13], "nice": false, "zero": false}, "axis": null}
          }
        },
        {
          "data": {"name": "one"},
          "mark": {"type": "text", "text": "v = 0.10c", "fontSize": 24, "color": "#008000", "align": "left", "baseline": "middle"},
          "encoding": {
            "x": {"datum": 2.6, "type": "quantitative", "scale": {"domain": [0.35, 3.2], "nice": false, "zero": false}, "axis": null},
            "y": {"datum": 4.07, "type": "quantitative", "scale": {"domain": [0, 13], "nice": false, "zero": false}, "axis": null}
          }
        },
        {
          "data": {"name": "one"},
          "mark": {"type": "text", "text": "v = 0.20c", "fontSize": 24, "color": "#ff0000", "align": "left", "baseline": "middle"},
          "encoding": {
            "x": {"datum": 2.6, "type": "quantitative", "scale": {"domain": [0.35, 3.2], "nice": false, "zero": false}, "axis": null},
            "y": {"datum": 2.49, "type": "quantitative", "scale": {"domain": [0, 13], "nice": false, "zero": false}, "axis": null}
          }
        },
        {
          "data": {"name": "one"},
          "mark": {"type": "text", "text": "v = 0.30c", "fontSize": 24, "color": "#0000ff", "align": "left", "baseline": "middle"},
          "encoding": {
            "x": {"datum": 2.6, "type": "quantitative", "scale": {"domain": [0.35, 3.2], "nice": false, "zero": false}, "axis": null},
            "y": {"datum": 1.0, "type": "quantitative", "scale": {"domain": [0, 13], "nice": false, "zero": false}, "axis": null}
          }
        }
      ]
    }
  ]
}
